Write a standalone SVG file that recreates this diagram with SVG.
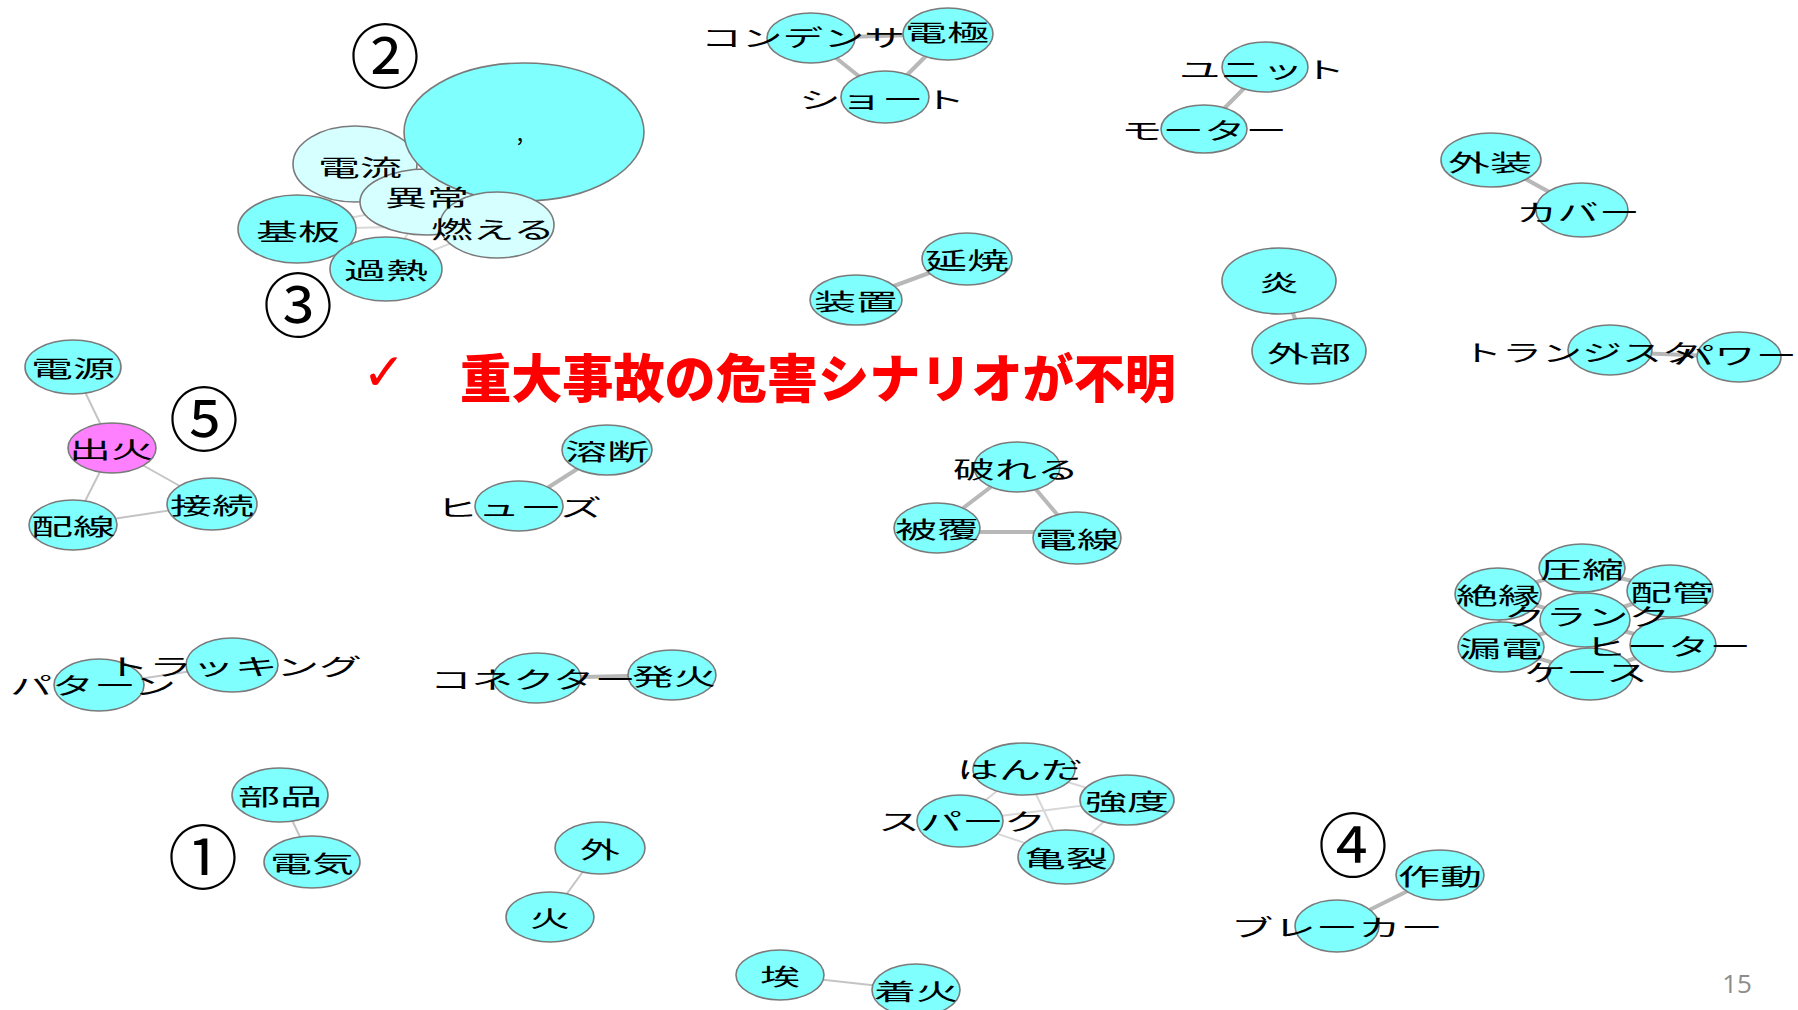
<svg xmlns="http://www.w3.org/2000/svg" width="1798" height="1010" viewBox="0 0 1798 1010">
<style>
.n{fill:#80ffff;stroke:#7a7a7a;stroke-width:1.6}
.l{fill:#d6ffff;stroke:#7a7a7a;stroke-width:1.6}
.m{fill:#ff80ff;stroke:#7a7a7a;stroke-width:1.6}
.lb{font-family:"Noto Sans CJK JP","Noto Sans",sans-serif;font-size:23px;fill:#000;text-anchor:middle;dominant-baseline:central}
.e{stroke:#b8b8b8;stroke-width:4;fill:none}
.et{stroke:#c4c4c4;stroke-width:2;fill:none}
.ef{stroke:#d8d8d8;stroke-width:2;fill:none}
.num{font-family:"Noto Sans CJK JP",sans-serif;font-size:70px;fill:#000;text-anchor:middle;dominant-baseline:central}
</style>
<rect width="1798" height="1010" fill="#ffffff"/>
<g id="connectors">
<line class="ef" x1="297" y1="229" x2="497" y2="225"/>
<line class="ef" x1="386" y1="269" x2="497" y2="225"/>
<line class="ef" x1="297" y1="229" x2="427" y2="202"/>
<line class="ef" x1="386" y1="269" x2="427" y2="202"/>
<line class="ef" x1="355" y1="164" x2="297" y2="229"/>
<line class="e" x1="811" y1="38" x2="948" y2="34"/>
<line class="e" x1="811" y1="38" x2="885" y2="97"/>
<line class="e" x1="948" y1="34" x2="885" y2="97"/>
<line class="e" x1="967" y1="259" x2="856" y2="300"/>
<line class="e" x1="1265" y1="67" x2="1204" y2="129"/>
<line class="e" x1="1491" y1="160" x2="1582" y2="210"/>
<line class="e" x1="1279" y1="281" x2="1309" y2="351"/>
<line class="e" x1="1610" y1="352" x2="1739" y2="357"/>
<line class="et" x1="73" y1="367" x2="112" y2="448"/>
<line class="et" x1="112" y1="448" x2="212" y2="504"/>
<line class="et" x1="112" y1="448" x2="73" y2="525"/>
<line class="et" x1="73" y1="525" x2="212" y2="504"/>
<line class="e" x1="607" y1="450" x2="519" y2="506"/>
<line class="et" x1="99" y1="685" x2="232" y2="665"/>
<line class="e" x1="537" y1="678" x2="672" y2="675"/>
<line class="e" x1="1017" y1="467" x2="937" y2="528"/>
<line class="e" x1="1017" y1="467" x2="1077" y2="538"/>
<line class="e" x1="937" y1="532" x2="1077" y2="532"/>
<line class="e" x1="1585" y1="620" x2="1582" y2="568"/>
<line class="e" x1="1585" y1="620" x2="1498" y2="594"/>
<line class="e" x1="1585" y1="620" x2="1670" y2="591"/>
<line class="e" x1="1585" y1="620" x2="1501" y2="647"/>
<line class="e" x1="1585" y1="620" x2="1673" y2="645"/>
<line class="e" x1="1585" y1="620" x2="1590" y2="674"/>
<line class="e" x1="1498" y1="594" x2="1582" y2="568"/>
<line class="e" x1="1582" y1="568" x2="1670" y2="591"/>
<line class="e" x1="1670" y1="591" x2="1673" y2="645"/>
<line class="e" x1="1673" y1="645" x2="1590" y2="674"/>
<line class="e" x1="1590" y1="674" x2="1501" y2="647"/>
<line class="e" x1="1501" y1="647" x2="1498" y2="594"/>
<line class="ef" x1="1024" y1="769" x2="1127" y2="800"/>
<line class="ef" x1="1024" y1="769" x2="1066" y2="857"/>
<line class="ef" x1="960" y1="821" x2="1127" y2="800"/>
<line class="ef" x1="960" y1="821" x2="1066" y2="857"/>
<line class="ef" x1="1127" y1="800" x2="1066" y2="857"/>
<line class="ef" x1="1024" y1="769" x2="960" y2="821"/>
<line class="e" x1="1440" y1="875" x2="1337" y2="926"/>
<line class="et" x1="280" y1="795" x2="312" y2="862"/>
<line class="et" x1="600" y1="848" x2="550" y2="917"/>
<line class="et" x1="780" y1="975" x2="916" y2="990"/>
</g>
<g id="n-denryu"><ellipse class="l" cx="355" cy="164" rx="62" ry="38"/></g>
<g id="n-ijo"><ellipse class="l" cx="427" cy="202" rx="67" ry="33"/></g>
<g id="n-comma"><ellipse class="n" cx="524" cy="132" rx="120" ry="69"/></g>
<g id="n-moeru"><ellipse class="l" cx="497" cy="225" rx="57" ry="33"/></g>
<g id="n-kiban"><ellipse class="n" cx="297" cy="229" rx="59" ry="34"/></g>
<g id="n-kanetsu"><ellipse class="n" cx="386" cy="269" rx="56" ry="32"/></g>
<g id="n-condenser"><ellipse class="n" cx="811" cy="38" rx="44" ry="25"/></g>
<g id="n-denkyoku"><ellipse class="n" cx="948" cy="34" rx="45" ry="26"/></g>
<g id="n-short"><ellipse class="n" cx="885" cy="97" rx="44" ry="26"/></g>
<g id="n-ensho"><ellipse class="n" cx="967" cy="259" rx="45" ry="26"/></g>
<g id="n-sochi"><ellipse class="n" cx="856" cy="300" rx="46" ry="25"/></g>
<g id="n-unit"><ellipse class="n" cx="1265" cy="67" rx="43" ry="25"/></g>
<g id="n-motor"><ellipse class="n" cx="1204" cy="129" rx="43" ry="24"/></g>
<g id="n-gaiso"><ellipse class="n" cx="1491" cy="160" rx="50" ry="27"/></g>
<g id="n-cover"><ellipse class="n" cx="1582" cy="210" rx="46" ry="27"/></g>
<g id="n-hono"><ellipse class="n" cx="1279" cy="281" rx="57" ry="33"/></g>
<g id="n-gaibu"><ellipse class="n" cx="1309" cy="351" rx="57" ry="33"/></g>
<g id="n-transistor"><ellipse class="n" cx="1610" cy="350" rx="42" ry="25"/></g>
<g id="n-power"><ellipse class="n" cx="1739" cy="357" rx="42" ry="25"/></g>
<g id="n-dengen"><ellipse class="n" cx="73" cy="367" rx="48" ry="27"/></g>
<g id="n-shukka"><ellipse class="m" cx="112" cy="448" rx="44" ry="25"/></g>
<g id="n-setsuzoku"><ellipse class="n" cx="212" cy="504" rx="45" ry="26"/></g>
<g id="n-haisen"><ellipse class="n" cx="73" cy="525" rx="44" ry="25"/></g>
<g id="n-yodan"><ellipse class="n" cx="607" cy="450" rx="45" ry="25"/></g>
<g id="n-fuse"><ellipse class="n" cx="519" cy="506" rx="44" ry="25"/></g>
<g id="n-tracking"><ellipse class="n" cx="232" cy="665" rx="46" ry="27"/></g>
<g id="n-pattern"><ellipse class="n" cx="99" cy="685" rx="45" ry="26"/></g>
<g id="n-connector"><ellipse class="n" cx="537" cy="678" rx="44" ry="25"/></g>
<g id="n-hakka"><ellipse class="n" cx="672" cy="675" rx="44" ry="25"/></g>
<g id="n-yabureru"><ellipse class="n" cx="1017" cy="467" rx="43" ry="25"/></g>
<g id="n-hifuku"><ellipse class="n" cx="937" cy="528" rx="43" ry="25"/></g>
<g id="n-densen"><ellipse class="n" cx="1077" cy="538" rx="44" ry="26"/></g>
<g id="n-crank"><ellipse class="n" cx="1585" cy="620" rx="45" ry="27"/></g>
<g id="n-asshuku"><ellipse class="n" cx="1582" cy="568" rx="43" ry="24"/></g>
<g id="n-zetsuen"><ellipse class="n" cx="1498" cy="594" rx="43" ry="26"/></g>
<g id="n-haikan"><ellipse class="n" cx="1670" cy="591" rx="43" ry="26"/></g>
<g id="n-roden"><ellipse class="n" cx="1501" cy="647" rx="43" ry="25"/></g>
<g id="n-heater"><ellipse class="n" cx="1673" cy="645" rx="43" ry="27"/></g>
<g id="n-case"><ellipse class="n" cx="1590" cy="674" rx="43" ry="26"/></g>
<g id="n-handa"><ellipse class="n" cx="1024" cy="769" rx="51" ry="26"/></g>
<g id="n-kyodo"><ellipse class="n" cx="1127" cy="800" rx="47" ry="25"/></g>
<g id="n-spark"><ellipse class="n" cx="960" cy="821" rx="43" ry="26"/></g>
<g id="n-kiretsu"><ellipse class="n" cx="1066" cy="857" rx="48" ry="27"/></g>
<g id="n-sado"><ellipse class="n" cx="1440" cy="875" rx="44" ry="25"/></g>
<g id="n-breaker"><ellipse class="n" cx="1337" cy="926" rx="42" ry="26"/></g>
<g id="n-buhin"><ellipse class="n" cx="280" cy="795" rx="48" ry="27"/></g>
<g id="n-denki"><ellipse class="n" cx="312" cy="862" rx="48" ry="26"/></g>
<g id="n-soto"><ellipse class="n" cx="600" cy="848" rx="45" ry="26"/></g>
<g id="n-hi"><ellipse class="n" cx="550" cy="917" rx="44" ry="25"/></g>
<g id="n-hokori"><ellipse class="n" cx="780" cy="975" rx="44" ry="25"/></g>
<g id="n-chakka"><ellipse class="n" cx="916" cy="990" rx="44" ry="26"/></g>
<g id="labels">
<text class="lb" x="360" y="166" textLength="84" lengthAdjust="spacingAndGlyphs">電流</text>
<text class="lb" x="427" y="196" textLength="84" lengthAdjust="spacingAndGlyphs">異常</text>
<text class="lb" x="520" y="131">,</text>
<text class="lb" x="493" y="228" textLength="124" lengthAdjust="spacingAndGlyphs">燃える</text>
<text class="lb" x="298" y="230" textLength="84" lengthAdjust="spacingAndGlyphs">基板</text>
<text class="lb" x="386" y="269" textLength="84" lengthAdjust="spacingAndGlyphs">過熱</text>
<text class="lb" x="803" y="36" textLength="204" lengthAdjust="spacingAndGlyphs">コンデンサ</text>
<text class="lb" x="947" y="31" textLength="84" lengthAdjust="spacingAndGlyphs">電極</text>
<text class="lb" x="882" y="98" textLength="166" lengthAdjust="spacingAndGlyphs">ショート</text>
<text class="lb" x="967" y="259" textLength="84" lengthAdjust="spacingAndGlyphs">延焼</text>
<text class="lb" x="856" y="300" textLength="84" lengthAdjust="spacingAndGlyphs">装置</text>
<text class="lb" x="1262" y="68" textLength="166" lengthAdjust="spacingAndGlyphs">ユニット</text>
<text class="lb" x="1204" y="129" textLength="166" lengthAdjust="spacingAndGlyphs">モーター</text>
<text class="lb" x="1490" y="161" textLength="84" lengthAdjust="spacingAndGlyphs">外装</text>
<text class="lb" x="1578" y="211" textLength="124" lengthAdjust="spacingAndGlyphs">カバー</text>
<text class="lb" x="1279" y="281" textLength="40" lengthAdjust="spacingAndGlyphs">炎</text>
<text class="lb" x="1309" y="352" textLength="84" lengthAdjust="spacingAndGlyphs">外部</text>
<text class="lb" x="1582" y="351" textLength="240" lengthAdjust="spacingAndGlyphs">トランジスタ</text>
<text class="lb" x="1735" y="354" textLength="124" lengthAdjust="spacingAndGlyphs">パワー</text>
<text class="lb" x="73" y="367" textLength="84" lengthAdjust="spacingAndGlyphs">電源</text>
<text class="lb" x="111" y="448" textLength="84" lengthAdjust="spacingAndGlyphs">出火</text>
<text class="lb" x="212" y="504" textLength="84" lengthAdjust="spacingAndGlyphs">接続</text>
<text class="lb" x="73" y="525" textLength="84" lengthAdjust="spacingAndGlyphs">配線</text>
<text class="lb" x="607" y="450" textLength="84" lengthAdjust="spacingAndGlyphs">溶断</text>
<text class="lb" x="519" y="506" textLength="166" lengthAdjust="spacingAndGlyphs">ヒューズ</text>
<text class="lb" x="234" y="665" textLength="256" lengthAdjust="spacingAndGlyphs">トラッキング</text>
<text class="lb" x="93" y="684" textLength="166" lengthAdjust="spacingAndGlyphs">パターン</text>
<text class="lb" x="533" y="678" textLength="206" lengthAdjust="spacingAndGlyphs">コネクター</text>
<text class="lb" x="674" y="675" textLength="84" lengthAdjust="spacingAndGlyphs">発火</text>
<text class="lb" x="1016" y="468" textLength="126" lengthAdjust="spacingAndGlyphs">破れる</text>
<text class="lb" x="937" y="528" textLength="84" lengthAdjust="spacingAndGlyphs">被覆</text>
<text class="lb" x="1077" y="538" textLength="84" lengthAdjust="spacingAndGlyphs">電線</text>
<text class="lb" x="1582" y="568" textLength="84" lengthAdjust="spacingAndGlyphs">圧縮</text>
<text class="lb" x="1498" y="594" textLength="84" lengthAdjust="spacingAndGlyphs">絶縁</text>
<text class="lb" x="1672" y="591" textLength="84" lengthAdjust="spacingAndGlyphs">配管</text>
<text class="lb" x="1587" y="615" textLength="166" lengthAdjust="spacingAndGlyphs">クランク</text>
<text class="lb" x="1501" y="647" textLength="84" lengthAdjust="spacingAndGlyphs">漏電</text>
<text class="lb" x="1668" y="645" textLength="166" lengthAdjust="spacingAndGlyphs">ヒーター</text>
<text class="lb" x="1586" y="671" textLength="124" lengthAdjust="spacingAndGlyphs">ケース</text>
<text class="lb" x="1020" y="768" textLength="126" lengthAdjust="spacingAndGlyphs">はんだ</text>
<text class="lb" x="1127" y="800" textLength="84" lengthAdjust="spacingAndGlyphs">強度</text>
<text class="lb" x="962" y="820" textLength="168" lengthAdjust="spacingAndGlyphs">スパーク</text>
<text class="lb" x="1066" y="857" textLength="84" lengthAdjust="spacingAndGlyphs">亀裂</text>
<text class="lb" x="1440" y="875" textLength="84" lengthAdjust="spacingAndGlyphs">作動</text>
<text class="lb" x="1337" y="926" textLength="212" lengthAdjust="spacingAndGlyphs">ブレーカー</text>
<text class="lb" x="280" y="795" textLength="84" lengthAdjust="spacingAndGlyphs">部品</text>
<text class="lb" x="312" y="862" textLength="84" lengthAdjust="spacingAndGlyphs">電気</text>
<text class="lb" x="600" y="848" textLength="40" lengthAdjust="spacingAndGlyphs">外</text>
<text class="lb" x="550" y="917" textLength="40" lengthAdjust="spacingAndGlyphs">火</text>
<text class="lb" x="780" y="975" textLength="40" lengthAdjust="spacingAndGlyphs">埃</text>
<text class="lb" x="916" y="990" textLength="84" lengthAdjust="spacingAndGlyphs">着火</text>
</g>
<g id="annotations">
<text class="num" x="385" y="52">②</text>
<text class="num" x="298" y="301">③</text>
<text class="num" x="204" y="415">⑤</text>
<text class="num" x="203" y="853">①</text>
<text class="num" x="1353" y="841">④</text>
<text x="384" y="372" font-family="DejaVu Sans,sans-serif" font-size="52" fill="#ff0000" text-anchor="middle" dominant-baseline="central">✓</text>
<text x="460" y="375" font-family="Noto Sans CJK JP,sans-serif" font-size="52" font-weight="900" fill="#ff0000" dominant-baseline="central" textLength="716" lengthAdjust="spacingAndGlyphs">重大事故の危害シナリオが不明</text>
<text x="1737" y="983" font-family="Open Sans,Liberation Sans,sans-serif" font-size="26" fill="#8c8c8c" text-anchor="middle" dominant-baseline="central">15</text>
</g>
</svg>
